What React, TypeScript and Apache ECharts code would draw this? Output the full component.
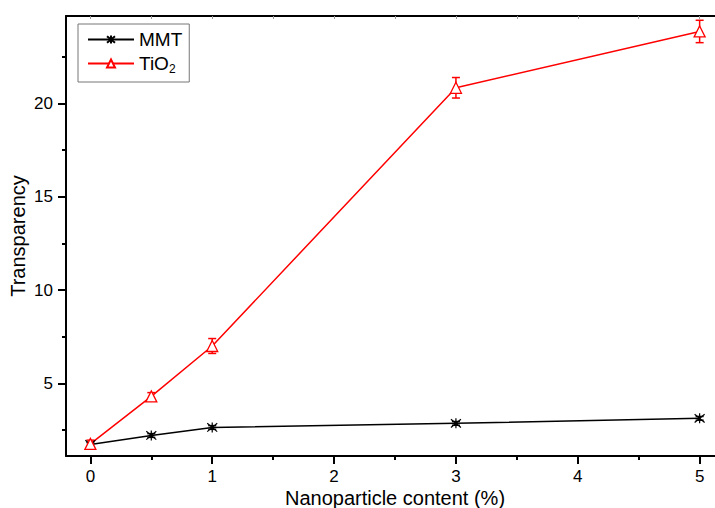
import React, { useEffect, useRef } from "react";
import * as echarts from "echarts";

const xValues = [0, 0.5, 1, 3, 5];
const mmtValues = [1.72, 2.2, 2.63, 2.85, 3.12];
const mmtErrors = [0.1, 0.1, 0.1, 0.1, 0.1];
const tio2Values = [1.75, 4.3, 7.0, 20.85, 23.87];
const tio2Errors = [0.2, 0.2, 0.4, 0.55, 0.6];
const xMajorTicks = [0, 1, 2, 3, 4, 5];
const xMinorTicks = [0.5, 1.5, 2.5, 3.5, 4.5];
const xAllTicks = [0, 0.5, 1, 1.5, 2, 2.5, 3, 3.5, 4, 4.5, 5];
const yMajorTicks = [5, 10, 15, 20];
const yMinorTicks = [2.5, 7.5, 12.5, 17.5, 22.5];
const seriesNames = ["MMT", "TiO2"];

const FONT = "'Liberation Sans', Arial, sans-serif";

export default function App() {
  const ref = useRef<HTMLDivElement>(null);
  useEffect(() => {
    if (!ref.current) return;
    const chart = echarts.init(ref.current, null, { renderer: "svg" });
    const xMin = -0.2, xMax = 5.2, yMin = 1.1, yMax = 24.7;
    const errRender = (color: string) => (params: any, api: any) => {
      const x = api.value(0), y = api.value(1), e = api.value(2);
      const t = api.coord([x, y + e]);
      const b = api.coord([x, y - e]);
      const w = 4;
      const style = { stroke: color, lineWidth: 1.5 };
      return {
        type: "group",
        children: [
          { type: "line", shape: { x1: t[0], y1: t[1], x2: b[0], y2: b[1] }, style },
          { type: "line", shape: { x1: t[0] - w, y1: t[1], x2: t[0] + w, y2: t[1] }, style },
          { type: "line", shape: { x1: b[0] - w, y1: b[1], x2: b[0] + w, y2: b[1] }, style },
        ],
      };
    };
    const mmtData = xValues.map((x, i) => [x, mmtValues[i]]);
    const tio2Data = xValues.map((x, i) => [x, tio2Values[i]]);
    const mmtErrData = xValues.map((x, i) => [x, mmtValues[i], mmtErrors[i]]);
    const tio2ErrData = xValues.map((x, i) => [x, tio2Values[i], tio2Errors[i]]);
    const axisLineStyle = { color: "#000", width: 2 };
    chart.setOption({
      animation: false,
      textStyle: { fontFamily: FONT },
      grid: { left: 66, top: 16, width: 658, height: 440, outerBoundsMode: "none", containLabel: false },
      legend: {
        data: seriesNames,
        orient: "vertical",
        left: 78,
        top: 24,
        itemWidth: 46,
        itemHeight: 10,
        itemGap: 5,
        padding: [6, 7, 7, 9],
        borderColor: "#777",
        borderWidth: 1,
        textStyle: {
          fontSize: 19,
          color: "#000",
          fontFamily: FONT,
          rich: {
            a: { fontSize: 19, fontFamily: FONT, color: "#000" },
            b: { fontSize: 12, fontFamily: FONT, color: "#000", padding: [11, 0, 0, 0] },
          },
        },
        formatter: (name: string) => (name === "TiO2" ? "{a|TiO}{b|2}" : name),
      },
      xAxis: [
        {
          type: "value",
          min: xMin,
          max: xMax,
          position: "bottom",
          name: "Nanoparticle content (%)",
          nameLocation: "middle",
          nameGap: 32,
          nameMoveOverlap: false,
          nameTextStyle: { fontSize: 20, color: "#000", fontFamily: FONT },
          axisLine: { show: true, onZero: false, lineStyle: axisLineStyle },
          axisTick: { show: true, customValues: xMajorTicks, length: 8, lineStyle: axisLineStyle },
          axisLabel: { customValues: xMajorTicks, fontSize: 17, color: "#000", margin: 12, fontFamily: FONT },
          splitLine: { show: false },
        },
        {
          type: "value",
          min: xMin,
          max: xMax,
          position: "bottom",
          axisLine: { show: false, onZero: false },
          axisTick: { show: true, customValues: xMinorTicks, length: 4, lineStyle: axisLineStyle },
          axisLabel: { show: false },
          splitLine: { show: false },
        },
        {
          type: "value",
          min: xMin,
          max: xMax,
          position: "top",
          axisLine: { show: true, onZero: false, lineStyle: axisLineStyle },
          axisTick: { show: true, inside: true, customValues: xAllTicks, length: 3, lineStyle: { color: "#999", width: 1 } },
          axisLabel: { show: false },
          splitLine: { show: false },
        },
      ],
      yAxis: [
        {
          type: "value",
          min: yMin,
          max: yMax,
          position: "left",
          name: "Transparency",
          nameLocation: "middle",
          nameGap: 38,
          nameMoveOverlap: false,
          nameTextStyle: { fontSize: 20, color: "#000", fontFamily: FONT },
          axisLine: { show: true, onZero: false, lineStyle: axisLineStyle },
          axisTick: { show: true, customValues: yMajorTicks, length: 8, lineStyle: axisLineStyle },
          axisLabel: { customValues: yMajorTicks, fontSize: 17, color: "#000", margin: 13, fontFamily: FONT },
          splitLine: { show: false },
        },
        {
          type: "value",
          min: yMin,
          max: yMax,
          position: "left",
          axisLine: { show: false, onZero: false },
          axisTick: { show: true, customValues: yMinorTicks, length: 4, lineStyle: axisLineStyle },
          axisLabel: { show: false },
          splitLine: { show: false },
        },
      ],
      series: [
        {
          type: "custom",
          name: "mmtErr",
          xAxisIndex: 0,
          yAxisIndex: 0,
          z: 1,
          renderItem: errRender("#000"),
          encode: { x: 0, y: 1 },
          data: mmtErrData,
        },
        {
          type: "custom",
          name: "tio2Err",
          xAxisIndex: 0,
          yAxisIndex: 0,
          z: 1,
          renderItem: errRender("#ff0000"),
          encode: { x: 0, y: 1 },
          data: tio2ErrData,
        },
        {
          type: "line",
          name: "MMT",
          xAxisIndex: 0,
          yAxisIndex: 0,
          z: 3,
          data: mmtData,
          symbol: "path://M0,0L10,10M10,0L0,10M5,-1L5,11",
          symbolSize: 10,
          lineStyle: { color: "#000", width: 1.5 },
          itemStyle: { color: "#000", borderColor: "#000", borderWidth: 1.2 },
        },
        {
          type: "line",
          name: "TiO2",
          xAxisIndex: 0,
          yAxisIndex: 0,
          z: 3,
          data: tio2Data,
          symbol: "triangle",
          symbolSize: 11,
          lineStyle: { color: "#ff0000", width: 1.5 },
          itemStyle: { color: "#fff", borderColor: "#ff0000", borderWidth: 1.3 },
        },
      ],
    });
    return () => chart.dispose();
  }, []);
  return (
    <div
      ref={ref}
      style={{ position: "absolute", left: 0, top: 0, width: 715, height: 508, background: "#fff" }}
    />
  );
}
